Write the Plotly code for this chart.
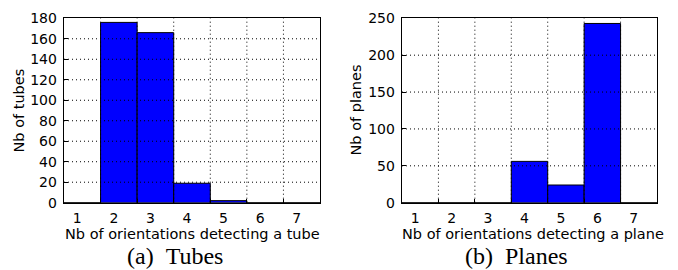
import plotly.graph_objects as go

orientations = [1, 2, 3, 4, 5, 6, 7]
tubes = [0, 176, 166, 19, 2, 0, 0]
planes = [0, 0, 0, 56, 24, 243, 0]
tube_yticks = [0, 20, 40, 60, 80, 100, 120, 140, 160, 180]
plane_yticks = [0, 50, 100, 150, 200, 250]
bin_edges = [1.5, 2.5, 3.5, 4.5, 5.5, 6.5]

W, H = 678, 270
fig = go.Figure()

def px_x(p):
    return p / W

def px_y(p):
    return 1 - p / H

panels = [
    dict(vals=tubes, yticks=tube_yticks, ymax=180, x0=64, x1=320, xa="x", ya="y",
         ytitle="Nb of tubes", ytitle_x=19,
         xtitle="Nb of orientations detecting a tube", xtitle_c=192,
         cap="(a)\u00a0\u00a0Tubes", cap_c=175),
    dict(vals=planes, yticks=plane_yticks, ymax=250, x0=402, x1=657, xa="x2", ya="y2",
         ytitle="Nb of planes", ytitle_x=356,
         xtitle="Nb of orientations detecting a plane", xtitle_c=533,
         cap="(b)\u00a0\u00a0Planes", cap_c=516),
]

top, bottom = 18.3, 202.7
font_sans = "DejaVu Sans"
shapes = []
annotations = []
for i, p in enumerate(panels):
    fig.add_trace(go.Bar(x=orientations, y=p["vals"], width=1,
                         marker=dict(color="#0000ff", line=dict(color="black", width=1)),
                         xaxis=p["xa"], yaxis=p["ya"], showlegend=False, hoverinfo="skip"))
    sfx = "" if i == 0 else "2"
    axis_common = dict(showline=True, linecolor="black", linewidth=1.3, mirror=True,
                       showgrid=False, zeroline=False, automargin=False,
                       tickfont=dict(family=font_sans, size=14, color="black"))
    fig.layout["xaxis" + sfx] = dict(
        domain=[px_x(p["x0"]), px_x(p["x1"])], anchor="y" + sfx,
        range=[0.5, 7.5], tickmode="array", tickvals=orientations,
        ticktext=[str(v) for v in orientations], ticks="", ticklabelshift=-5,
        ticklabelstandoff=2,
        minor=dict(tickmode="array", tickvals=bin_edges, ticks="inside", ticklen=4,
                   tickcolor="black", showgrid=False),
        **axis_common)
    fig.layout["yaxis" + sfx] = dict(
        domain=[px_y(bottom), px_y(top)], anchor="x" + sfx,
        range=[0, p["ymax"]], tickmode="array", tickvals=p["yticks"],
        ticks="inside", ticklen=4, tickcolor="black", ticklabelstandoff=3,
        **axis_common)
    xr = "x" + sfx
    yr = "y" + sfx
    for yv in p["yticks"][1:-1]:
        shapes.append(dict(type="line", xref=xr + " domain", yref=yr, x0=0, x1=1,
                           y0=yv, y1=yv, layer="above",
                           line=dict(color="black", width=1, dash="1px,3px")))
    for xv in bin_edges:
        shapes.append(dict(type="line", xref=xr, yref=yr + " domain", x0=xv, x1=xv,
                           y0=0, y1=1, layer="above",
                           line=dict(color="black", width=1, dash="1px,3px")))
    annotations.append(dict(text=p["ytitle"], xref="paper", yref="paper",
                            x=px_x(p["ytitle_x"]), y=px_y((top + bottom) / 2),
                            textangle=-90, showarrow=False, xanchor="center", yanchor="middle",
                            font=dict(family=font_sans, size=14.5, color="black")))
    annotations.append(dict(text=p["xtitle"], xref="paper", yref="paper",
                            x=px_x(p["xtitle_c"]), y=px_y(234),
                            showarrow=False, xanchor="center", yanchor="middle",
                            font=dict(family=font_sans, size=14.5, color="black")))
    annotations.append(dict(text=p["cap"], xref="paper", yref="paper",
                            x=px_x(p["cap_c"]), y=px_y(256),
                            showarrow=False, xanchor="center", yanchor="middle",
                            font=dict(family="Liberation Serif", size=24, color="black")))

fig.update_layout(width=W, height=H, margin=dict(l=0, r=0, t=0, b=0, autoexpand=False),
                  paper_bgcolor="white", plot_bgcolor="white", bargap=0,
                  shapes=shapes, annotations=annotations)
fig.write_html("out.html", config={"displayModeBar": False, "staticPlot": True},
               post_script="document.body.style.margin='0';document.body.style.overflow='hidden';")
